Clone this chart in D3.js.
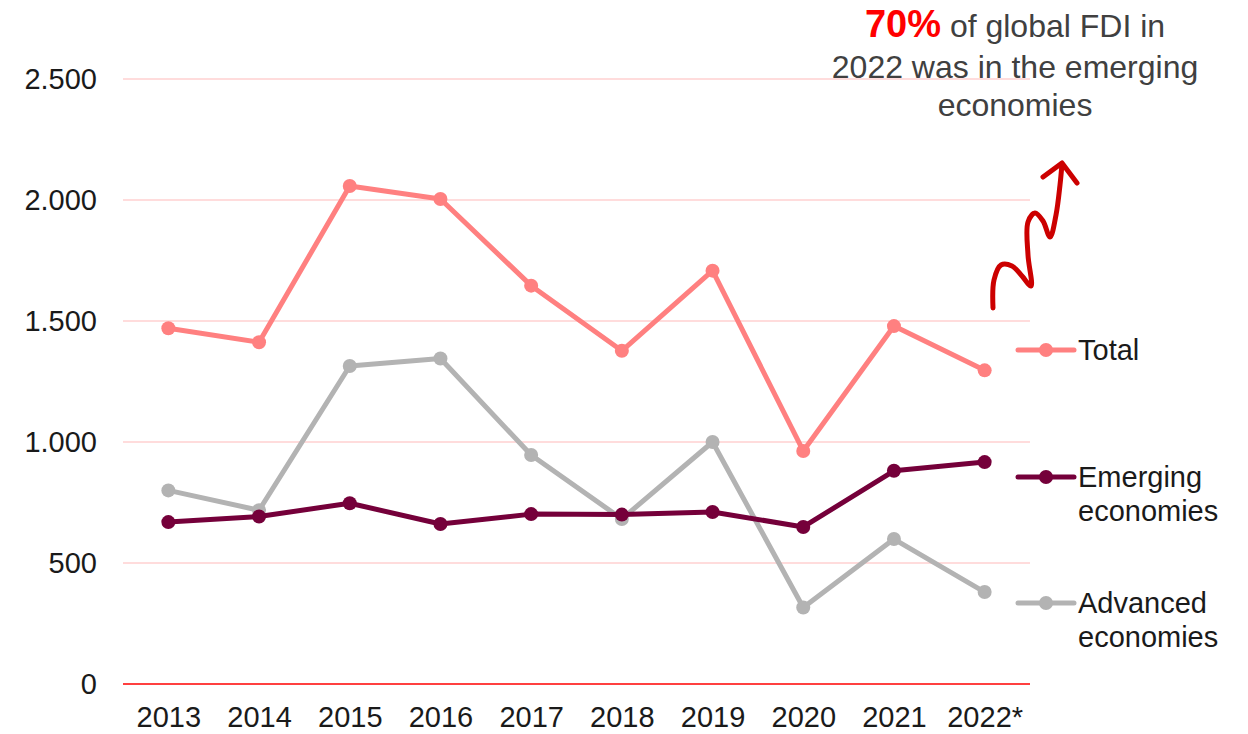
<!DOCTYPE html>
<html>
<head>
<meta charset="utf-8">
<script src="https://cdn.jsdelivr.net/npm/d3@7"></script>
<style>
  body { margin: 0; background: #fff; }
  svg { display: block; font-family: Arial, "Liberation Sans", sans-serif; }
</style>
</head>
<body>
<div id="chart"></div>
<script>
// values (USD bn)
var years = ['2013', '2014', '2015', '2016', '2017', '2018', '2019', '2020', '2021', '2022*'];
var total = [1470, 1412, 2058, 2004, 1646, 1377, 1708, 963, 1479, 1296];
var emerging = [669, 692, 747, 661, 702, 700, 711, 649, 881, 917];
var advanced = [800, 718, 1314, 1345, 946, 682, 1000, 316, 599, 380];
var yTicks = [0, 500, 1000, 1500, 2000, 2500];

var series = [
    { name: ['Total'], values: total, color: '#ff8080', legendY: 350 },
    { name: ['Emerging', 'economies'], values: emerging, color: '#75003a', legendY: 477 },
    { name: ['Advanced', 'economies'], values: advanced, color: '#b3b3b3', legendY: 603 }
];

var chartW = 1248, chartH = 734;
var plotLeft = 123, plotRight = 1030, plotTop = 79, plotBottom = 684;

var svg = d3.select('#chart').append('svg')
    .attr('width', chartW)
    .attr('height', chartH);

var x = d3.scalePoint().domain(years).range([plotLeft, plotRight]).padding(0.5);
var y = d3.scaleLinear().domain([0, 2500]).range([plotBottom, plotTop]);

// gridlines
svg.append('g').selectAll('line')
    .data(yTicks.filter(function(d) { return d > 0; }))
    .enter().append('line')
    .attr('x1', plotLeft).attr('x2', plotRight)
    .attr('y1', function(d) { return y(d); })
    .attr('y2', function(d) { return y(d); })
    .attr('stroke', '#ffdcdc')
    .attr('stroke-width', 2);

// y axis labels
var fmt = function(d) { return d3.format(',')(d).replace(/,/g, '.'); };
var yAxis = svg.append('g')
    .attr('transform', 'translate(' + plotLeft + ',0)')
    .call(d3.axisLeft(y).tickValues(yTicks).tickFormat(fmt).tickSize(0).tickPadding(26));
yAxis.select('.domain').remove();
yAxis.selectAll('text')
    .attr('font-size', 29)
    .attr('font-family', 'Arial, "Liberation Sans", sans-serif')
    .attr('fill', '#1a1a1a');

// x axis
var xAxis = svg.append('g')
    .attr('transform', 'translate(0,' + plotBottom + ')')
    .call(d3.axisBottom(x).tickSize(0).tickPadding(22));
xAxis.select('.domain').remove();
xAxis.selectAll('text')
    .attr('font-size', 29)
    .attr('font-family', 'Arial, "Liberation Sans", sans-serif')
    .attr('fill', '#1a1a1a');

// zero line
svg.append('line')
    .attr('x1', plotLeft).attr('x2', plotRight)
    .attr('y1', y(0)).attr('y2', y(0))
    .attr('stroke', '#ff0000')
    .attr('stroke-width', 1.5);

var line = d3.line()
    .x(function(d, i) { return x(years[i]); })
    .y(function(d) { return y(d); });

// draw advanced first, then emerging, then total on top
[series[2], series[1], series[0]].forEach(function(s) {
    var g = svg.append('g');
    g.append('path')
        .attr('d', line(s.values))
        .attr('fill', 'none')
        .attr('stroke', s.color)
        .attr('stroke-width', 5)
        .attr('stroke-linejoin', 'round');
    g.selectAll('circle')
        .data(s.values)
        .enter().append('circle')
        .attr('cx', function(d, i) { return x(years[i]); })
        .attr('cy', function(d) { return y(d); })
        .attr('r', 7)
        .attr('fill', s.color);
});

// legend
series.forEach(function(s) {
    var g = svg.append('g').attr('transform', 'translate(1018,' + s.legendY + ')');
    g.append('line')
        .attr('x1', 0).attr('x2', 56)
        .attr('stroke', s.color)
        .attr('stroke-width', 5)
        .attr('stroke-linecap', 'round');
    g.append('circle').attr('cx', 28).attr('r', 7).attr('fill', s.color);
    var t = g.append('text')
        .attr('x', 60)
        .attr('font-size', 29)
        .attr('fill', '#1a1a1a');
    s.name.forEach(function(n, i) {
        t.append('tspan').attr('x', 60).attr('y', 10 + i * 34).text(n);
    });
});

// annotation
var note = svg.append('g').attr('transform', 'translate(1015,0)');
var l1 = note.append('text').attr('y', 37).attr('text-anchor', 'middle').attr('font-size', 32).attr('fill', '#404040');
l1.append('tspan').attr('font-weight', 'bold').attr('font-size', 38).attr('fill', '#ff0000').text('70%');
l1.append('tspan').text(' of global FDI in');
note.append('text').attr('y', 78).attr('text-anchor', 'middle').attr('font-size', 32).attr('fill', '#404040')
    .text('2022 was in the emerging');
note.append('text').attr('y', 116).attr('text-anchor', 'middle').attr('font-size', 32).attr('fill', '#404040')
    .text('economies');

// squiggle arrow
var squiggle = [[993, 308], [994, 280], [1001, 265], [1012, 266], [1022, 276], [1031, 286], [1028, 255],
    [1028, 222], [1035, 213], [1043, 221], [1050, 237], [1056, 215], [1060, 185], [1062, 164]];
var arrowLine = d3.line().curve(d3.curveCatmullRom.alpha(0.5));
svg.append('path')
    .attr('d', arrowLine(squiggle))
    .attr('fill', 'none')
    .attr('stroke', '#cc0000')
    .attr('stroke-width', 5)
    .attr('stroke-linecap', 'round')
    .attr('stroke-linejoin', 'round');
svg.append('path')
    .attr('d', d3.line()([[1043, 177], [1062, 163], [1077, 183]]))
    .attr('fill', 'none')
    .attr('stroke', '#cc0000')
    .attr('stroke-width', 5)
    .attr('stroke-linecap', 'round')
    .attr('stroke-linejoin', 'round');
</script>
</body>
</html>
